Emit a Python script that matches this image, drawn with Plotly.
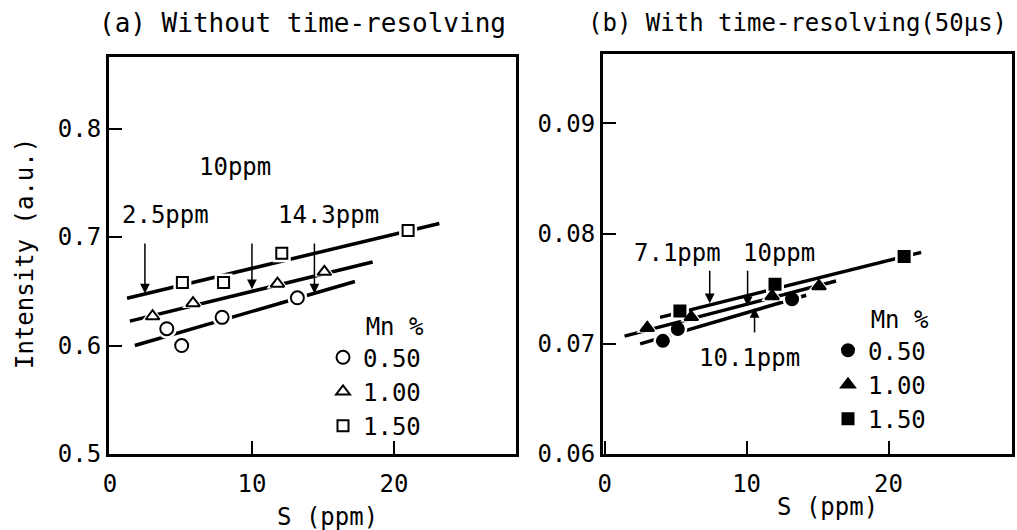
import plotly.graph_objects as go

# ---------------- data ----------------
# (a) Without time-resolving  (open symbols)
s_a_050 = [4.0, 5.05, 7.9, 13.2]
i_a_050 = [0.6155, 0.600, 0.626, 0.644]
s_a_100 = [3.0, 5.85, 11.8, 15.1]
i_a_100 = [0.627, 0.639, 0.657, 0.668]
s_a_150 = [5.1, 8.0, 12.1, 21.0]
i_a_150 = [0.658, 0.658, 0.685, 0.706]

fit_a_050_s = [1.75, 17.25]
fit_a_050_i = [0.600, 0.659]
fit_a_100_s = [1.4, 18.5]
fit_a_100_i = [0.6225, 0.677]
fit_a_150_s = [1.2, 23.2]
fit_a_150_i = [0.6436, 0.7125]

# (b) With time-resolving (50us)  (filled symbols)
s_b_050 = [4.1, 5.15, 13.2]
i_b_050 = [0.07027, 0.07135, 0.07405]
s_b_100 = [3.0, 6.1, 11.8, 15.1]
i_b_100 = [0.07144, 0.07243, 0.07432, 0.07523]
s_b_150 = [5.3, 12.0, 21.1]
i_b_150 = [0.07297, 0.07541, 0.07793]

fit_b_050_s = [2.5, 14.2]
fit_b_050_i = [0.0700, 0.07441]
fit_b_100_s = [1.4, 16.3]
fit_b_100_i = [0.0707, 0.0757]
fit_b_150_s = [3.9, 22.3]
fit_b_150_i = [0.0724, 0.0783]

mn_labels = ["0.50", "1.00", "1.50"]

# detection-limit arrows: (label, arrow x, tail y, head y, label x, label y)
arrows_a = [
    ("2.5ppm", 2.46, 0.6955, 0.648, 3.9, 0.7207),
    ("10ppm", 10.0, 0.6955, 0.652, 8.8, 0.765),
    ("14.3ppm", 14.4, 0.6955, 0.648, 15.4, 0.7207),
]
arrows_b = [
    ("7.1ppm", 7.4, 0.07676, 0.07369, 5.1, 0.07822),
    ("10ppm", 10.07, 0.07676, 0.07340, 12.3, 0.07822),
    ("10.1ppm", 10.56, 0.07090, 0.07324, 10.2, 0.06870),
]

# ---------------- styling ----------------
FONT = "DejaVu Sans Mono"
W, H = 1017, 530

def px_x(p):
    return p / W

def px_y(p):
    return (H - p) / H

fig = go.Figure()

def add_series(s, i, fit_s, fit_i, symbol, size, xa, ya):
    fig.add_trace(go.Scatter(x=fit_s, y=fit_i, mode="lines", xaxis=xa, yaxis=ya,
                             line=dict(color="black", width=3.5), showlegend=False,
                             hoverinfo="skip"))
    # white halo to break the line around markers
    fig.add_trace(go.Scatter(x=s, y=i, mode="markers", xaxis=xa, yaxis=ya,
                             marker=dict(symbol=symbol, size=size + 7, color="white",
                                         line=dict(width=0)),
                             showlegend=False, hoverinfo="skip"))

def add_markers(s, i, symbol, size, filled, name, xa, ya, legend):
    fig.add_trace(go.Scatter(x=s, y=i, mode="markers", xaxis=xa, yaxis=ya, name=name,
                             legend=legend,
                             marker=dict(symbol=symbol, size=size,
                                         color="black" if filled else "white",
                                         line=dict(color="black", width=2)),
                             showlegend=True))

series_a = [
    (s_a_050, i_a_050, fit_a_050_s, fit_a_050_i, "circle", 13),
    (s_a_100, i_a_100, fit_a_100_s, fit_a_100_i, "triangle-up", 12),
    (s_a_150, i_a_150, fit_a_150_s, fit_a_150_i, "square", 11),
]
series_b = [
    (s_b_050, i_b_050, fit_b_050_s, fit_b_050_i, "circle", 12),
    (s_b_100, i_b_100, fit_b_100_s, fit_b_100_i, "triangle-up", 12),
    (s_b_150, i_b_150, fit_b_150_s, fit_b_150_i, "square", 11),
]

for (s, i, fs, fi, sym, sz) in series_a:
    add_series(s, i, fs, fi, sym, sz, "x", "y")
for (s, i, fs, fi, sym, sz) in series_b:
    add_series(s, i, fs, fi, sym, sz, "x2", "y2")
for (s, i, fs, fi, sym, sz), nm in zip(series_a, mn_labels):
    add_markers(s, i, sym, sz, False, nm, "x", "y", "legend")
for (s, i, fs, fi, sym, sz), nm in zip(series_b, mn_labels):
    add_markers(s, i, sym, sz, True, nm, "x2", "y2", "legend2")

axis_common = dict(showline=True, linecolor="black", linewidth=3, mirror=True,
                   ticks="inside", ticklen=13, tickwidth=2, tickcolor="black",
                   showgrid=False, zeroline=False, automargin=False,
                   tickfont=dict(family=FONT, size=24, color="black"))

txt_font = dict(family=FONT, size=24, color="black")

annotations = []
for (lab, ax_, yt, yh, lx, ly) in arrows_a:
    annotations.append(dict(x=ax_, y=yh, ax=ax_, ay=yt, xref="x", yref="y",
                            axref="x", ayref="y", text="", showarrow=True,
                            arrowhead=2, arrowsize=1.3, arrowwidth=1.5, arrowcolor="black"))
    annotations.append(dict(x=lx, y=ly, xref="x", yref="y", text=lab, showarrow=False,
                            xanchor="center", yanchor="middle", font=txt_font))
for (lab, ax_, yt, yh, lx, ly) in arrows_b:
    annotations.append(dict(x=ax_, y=yh, ax=ax_, ay=yt, xref="x2", yref="y2",
                            axref="x2", ayref="y2", text="", showarrow=True,
                            arrowhead=2, arrowsize=1.3, arrowwidth=1.5, arrowcolor="black"))
    annotations.append(dict(x=lx, y=ly, xref="x2", yref="y2", text=lab, showarrow=False,
                            xanchor="center", yanchor="middle", font=txt_font))

annotations += [
    dict(x=px_x(302), y=px_y(23), xref="paper", yref="paper",
         text="(a) Without time-resolving", showarrow=False,
         xanchor="center", yanchor="middle",
         font=dict(family=FONT, size=26, color="black")),
    dict(x=px_x(797), y=px_y(23), xref="paper", yref="paper",
         text="(b) With time-resolving(50µs)", showarrow=False,
         xanchor="center", yanchor="middle",
         font=dict(family=FONT, size=24, color="black")),
    dict(x=15.3, y=px_y(517), xref="x", yref="paper", text="S (ppm)", showarrow=False,
         xanchor="center", yanchor="middle", font=txt_font),
    dict(x=15.7, y=px_y(507), xref="x2", yref="paper", text="S (ppm)", showarrow=False,
         xanchor="center", yanchor="middle", font=txt_font),
    dict(x=px_x(25), y=px_y(254), xref="paper", yref="paper", text="Intensity (a.u.)",
         textangle=-90, showarrow=False, xanchor="center", yanchor="middle",
         font=txt_font),
]

legend_common = dict(font=txt_font,
                     bgcolor="rgba(0,0,0,0)", borderwidth=0,
                     xanchor="left", yanchor="top", tracegroupgap=0,
                     title=dict(text="Mn %", side="top right", font=txt_font))

fig.update_layout(
    width=W, height=H,
    margin=dict(l=0, r=0, t=0, b=0, autoexpand=False),
    paper_bgcolor="white", plot_bgcolor="white",
    xaxis=dict(domain=[px_x(109), px_x(516)], range=[-0.07, 28.6],
               tickvals=[0, 10, 20], anchor="y", ticklabelstandoff=6, **axis_common),
    yaxis=dict(domain=[px_y(454), px_y(57)], range=[0.5, 0.866],
               tickvals=[0.5, 0.6, 0.7, 0.8], ticktext=["0.5", "0.6", "0.7", "0.8"],
               anchor="x", **axis_common),
    xaxis2=dict(domain=[px_x(603), px_x(1012)], range=[-0.12, 28.7],
                tickvals=[0, 10, 20], anchor="y2", ticklabelstandoff=6, **axis_common),
    yaxis2=dict(domain=[px_y(454), px_y(54)], range=[0.06, 0.0963],
                tickvals=[0.06, 0.07, 0.08, 0.09],
                ticktext=["0.06", "0.07", "0.08", "0.09"],
                anchor="x2", **axis_common),
    legend=dict(x=px_x(323), y=px_y(304), **legend_common),
    legend2=dict(x=px_x(828), y=px_y(297), **legend_common),
    annotations=annotations,
    showlegend=True,
)

fig.write_html("out.html",
               config={"displayModeBar": False},
               post_script="document.body.style.margin='0';document.body.style.overflow='hidden';")
